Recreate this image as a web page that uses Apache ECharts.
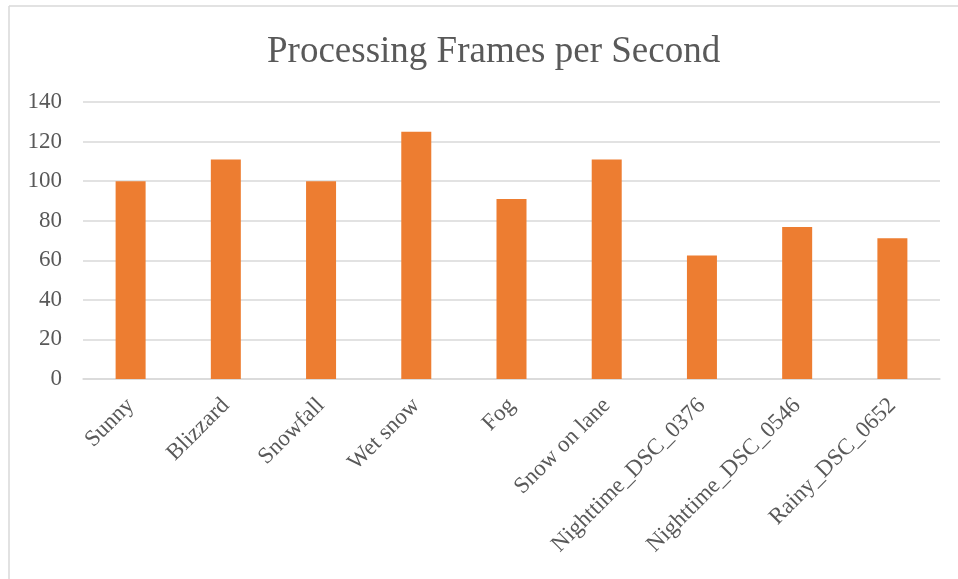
<!DOCTYPE html>
<html>
<head>
<meta charset="utf-8">
<script src="https://cdn.jsdelivr.net/npm/echarts@6/dist/echarts.min.js"></script>
<style>
  html, body { margin: 0; padding: 0; background: #fff; }
  #chart { width: 958px; height: 579px; }
</style>
</head>
<body>
<div id="chart"></div>
<script>
const categories = [
  "Sunny", "Blizzard", "Snowfall", "Wet snow", "Fog", "Snow on lane",
  "Nighttime_DSC_0376", "Nighttime_DSC_0546", "Rainy_DSC_0652"
];
const fpsValues = [100, 111, 100, 125, 91, 111, 62.4, 76.8, 71.2];
const yTicks = { min: 0, max: 140, interval: 20 };

const chart = echarts.init(document.getElementById("chart"));
const serif = "'Liberation Serif', 'DejaVu Serif', serif";

chart.setOption({
  animation: false,
  title: {
    text: "Processing Frames per Second",
    left: 262,
    top: 29,
    textStyle: { fontFamily: serif, fontSize: 37, fontWeight: "normal", color: "#595959" }
  },
  graphic: [
    // outer chart border (left and top edges visible)
    { type: "line", shape: { x1: 9, y1: 6, x2: 9, y2: 579 }, style: { stroke: "#d9d9d9", lineWidth: 1.5 } },
    { type: "line", shape: { x1: 9, y1: 6, x2: 958, y2: 6 }, style: { stroke: "#d9d9d9", lineWidth: 1.5 } }
  ],
  grid: { left: 83, right: 18, top: 102, bottom: 200 },
  xAxis: {
    type: "category",
    data: categories,
    axisLine: { show: true, lineStyle: { color: "#d9d9d9", width: 1.5 } },
    axisTick: { show: false },
    axisLabel: {
      rotate: 45,
      margin: 23,
      interval: 0,
      fontFamily: serif,
      fontSize: 23,
      color: "#595959"
    }
  },
  yAxis: {
    type: "value",
    min: yTicks.min,
    max: yTicks.max,
    interval: yTicks.interval,
    axisLine: { show: false },
    axisTick: { show: false },
    splitLine: { lineStyle: { color: "#d9d9d9", width: 1.5 } },
    axisLabel: { margin: 21, fontFamily: serif, fontSize: 23, color: "#595959" }
  },
  series: [
    {
      type: "bar",
      data: fpsValues,
      barWidth: 30,
      itemStyle: { color: "#ED7D31" }
    }
  ]
});
</script>
</body>
</html>
